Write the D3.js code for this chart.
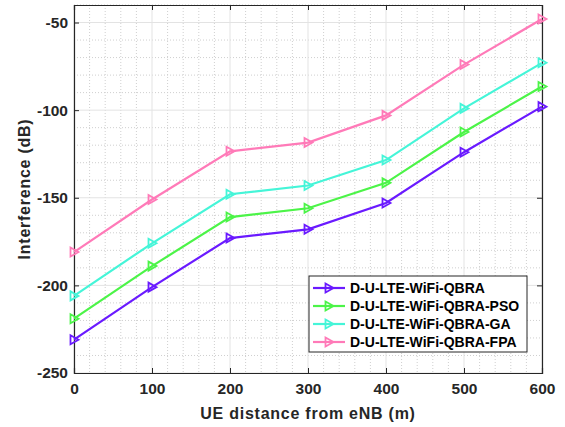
<!DOCTYPE html>
<html><head><meta charset="utf-8">
<script src="https://cdn.jsdelivr.net/npm/d3@7"></script>
<style>body{margin:0;background:#fff;} svg{display:block;}</style>
</head><body>
<script>
const distances = [0, 100, 200, 300, 400, 500, 600];
const qbra    = [-231, -201, -173, -168, -153, -124, -98];
const qbraPSO = [-219, -189, -161, -156, -141.5, -112.5, -86.5];
const qbraGA  = [-206, -176, -148, -143, -128.5, -99, -73];
const qbraFPA = [-181, -151, -123.5, -118.5, -103, -74, -48];
const seriesNames = ["D-U-LTE-WiFi-QBRA", "D-U-LTE-WiFi-QBRA-PSO", "D-U-LTE-WiFi-QBRA-GA", "D-U-LTE-WiFi-QBRA-FPA"];
const seriesColors = ["#6a1aff", "#4cf448", "#45f5d8", "#ff7ab8"];
const xTicks = [0, 100, 200, 300, 400, 500, 600];
const yTicks = [-250, -200, -150, -100, -50];

const series = [qbra, qbraPSO, qbraGA, qbraFPA].map((v, i) => ({name: seriesNames[i], color: seriesColors[i], values: v}));

const W = 565, H = 427;
const L = 74, R = 542, T = 5, B = 373;
const svg = d3.select("body").append("svg").attr("width", W).attr("height", H);
const x = d3.scaleLinear().domain([0, 600]).range([L, R]);
const y = d3.scaleLinear().domain([-250, -40]).range([B, T]);
const fmt = d => String(d).replace("\u2212", "-");

// minor grid
const g = svg.append("g");
g.selectAll(".mx").data(d3.range(0, 601, 20).filter(d => d % 100 !== 0)).enter().append("line")
  .attr("x1", d => x(d)).attr("x2", d => x(d)).attr("y1", T).attr("y2", B)
  .attr("stroke", "#cfcfcf").attr("stroke-width", 1).attr("stroke-dasharray", "1,2");
g.selectAll(".my").data(d3.range(-250, -39, 10).filter(d => d % 50 !== 0)).enter().append("line")
  .attr("x1", L).attr("x2", R).attr("y1", d => y(d)).attr("y2", d => y(d))
  .attr("stroke", "#cfcfcf").attr("stroke-width", 1).attr("stroke-dasharray", "1,2");
// major grid
g.selectAll(".gx").data(xTicks).enter().append("line")
  .attr("x1", d => x(d)).attr("x2", d => x(d)).attr("y1", T).attr("y2", B)
  .attr("stroke", "#e3e3e3").attr("stroke-width", 1);
g.selectAll(".gy").data(yTicks).enter().append("line")
  .attr("x1", L).attr("x2", R).attr("y1", d => y(d)).attr("y2", d => y(d))
  .attr("stroke", "#e3e3e3").attr("stroke-width", 1);

// axes
const font = "'Liberation Sans', Arial, sans-serif";
const xAxis = svg.append("g").attr("transform", `translate(0,${B})`)
  .call(d3.axisBottom(x).tickValues(xTicks).tickSize(-5).tickPadding(10).tickFormat(fmt));
const yAxis = svg.append("g").attr("transform", `translate(${L},0)`)
  .call(d3.axisLeft(y).tickValues(yTicks).tickSize(-5).tickPadding(6).tickFormat(fmt));
const xTop = svg.append("g").attr("transform", `translate(0,${T})`)
  .call(d3.axisTop(x).tickValues(xTicks).tickSize(-5).tickFormat(""));
const yRight = svg.append("g").attr("transform", `translate(${R},0)`)
  .call(d3.axisRight(y).tickValues(yTicks).tickSize(-5).tickFormat(""));
[xAxis, yAxis, xTop, yRight].forEach(a => {
  a.select(".domain").attr("stroke", "#262626").attr("stroke-width", 1.2);
  a.selectAll(".tick line").attr("stroke", "#262626");
  a.selectAll("text").attr("font-family", font).attr("font-size", 15.5).attr("font-weight", "bold").attr("fill", "#262626");
});

// lines
const line = d3.line().x((d, i) => x(distances[i])).y(d => y(d));
const tri = "M-3.5,-4.5 L4.5,0 L-3.5,4.5 Z";
series.forEach(s => {
  svg.append("path").datum(s.values).attr("d", line).attr("fill", "none")
    .attr("stroke", s.color).attr("stroke-width", 2.2);
  svg.selectAll(null).data(s.values).enter().append("path")
    .attr("d", tri).attr("transform", (d, i) => `translate(${x(distances[i])},${y(d)})`)
    .attr("fill", "none").attr("stroke", s.color).attr("stroke-width", 1.8);
});

// axis labels
svg.append("text").attr("x", (L + R) / 2).attr("y", 419).attr("text-anchor", "middle")
  .attr("font-family", font).attr("font-size", 16).attr("letter-spacing", 0.75).attr("font-weight", "bold").attr("fill", "#262626")
  .text("UE distance from eNB (m)");
svg.append("text").attr("transform", `translate(30,${(T + B) / 2}) rotate(-90)`).attr("text-anchor", "middle")
  .attr("font-family", font).attr("font-size", 16).attr("letter-spacing", 0.75).attr("font-weight", "bold").attr("fill", "#262626")
  .text("Interference (dB)");

// legend
const lg = svg.append("g").attr("transform", "translate(309,276)");
lg.append("rect").attr("width", 218).attr("height", 76).attr("fill", "#fff")
  .attr("stroke", "#262626").attr("stroke-width", 1);
series.forEach((s, i) => {
  const yy = 12 + i * 18;
  lg.append("line").attr("x1", 4).attr("x2", 36).attr("y1", yy).attr("y2", yy)
    .attr("stroke", s.color).attr("stroke-width", 2.2);
  lg.append("path").attr("d", tri).attr("transform", `translate(20,${yy})`)
    .attr("fill", "none").attr("stroke", s.color).attr("stroke-width", 1.8);
  lg.append("text").attr("x", 41).attr("y", yy + 5).attr("font-family", font)
    .attr("font-size", 14).attr("font-weight", "bold").attr("fill", "#000").text(s.name);
});
</script>
</body></html>
